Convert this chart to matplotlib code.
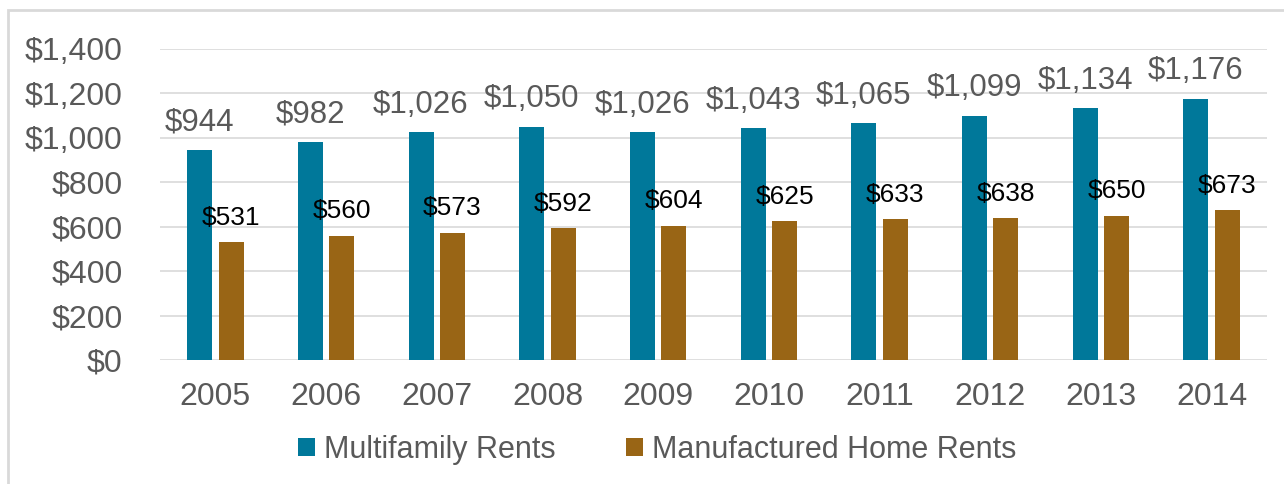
import numpy as np
import matplotlib
matplotlib.use("Agg")
import matplotlib.pyplot as plt
from matplotlib.patches import Rectangle

years = ["2005", "2006", "2007", "2008", "2009", "2010", "2011", "2012", "2013", "2014"]
multifamily = [944, 982, 1026, 1050, 1026, 1043, 1065, 1099, 1134, 1176]
manufactured = [531, 560, 573, 592, 604, 625, 633, 638, 650, 673]
series_names = ["Multifamily Rents", "Manufactured Home Rents"]

TEAL = "#00789A"
BROWN = "#996515"
GRAY_TEXT = "#595959"
GRID = "#D9D9D9"

plt.rcParams["font.family"] = ["Liberation Sans", "DejaVu Sans"]

W, H = 1284, 484
fig = plt.figure(figsize=(W / 100, H / 100), dpi=100)
ax = fig.add_axes([160 / W, 1 - 360 / H, (1267 - 160) / W, (360 - 49) / H])

# outer frame of the chart area (cropped on right and bottom)
fig.patches.append(Rectangle((8 / W, -0.1), 1.2, 1 - 10 / H + 0.1,
                             transform=fig.transFigure, fill=False,
                             edgecolor=GRID, linewidth=2))

x = np.arange(len(years))
w = 0.226
off = 0.142

b1 = ax.bar(x - off, multifamily, w, color=TEAL, label=series_names[0], zorder=3)
b2 = ax.bar(x + off, manufactured, w, color=BROWN, label=series_names[1], zorder=3)

for xi, v in zip(x - off, multifamily):
    ax.annotate(f"${v:,}", (xi, v), xytext=(0, 14), textcoords="offset points",
                ha="center", va="baseline", fontsize=22.5, color=GRAY_TEXT)
for xi, v in zip(x + off, manufactured):
    ax.annotate(f"${v:,}", (xi, v), xytext=(0, 12.5), textcoords="offset points",
                ha="center", va="baseline", fontsize=19, color="black", zorder=4)

ax.set_xlim(-0.5, len(years) - 0.5)
ax.set_ylim(0, 1400)
ax.set_yticks(range(0, 1401, 200))
ax.set_yticklabels([f"${t:,}" for t in range(0, 1401, 200)])
ax.set_xticks(x)
ax.set_xticklabels(years)
ax.tick_params(axis="y", length=0, pad=27, labelsize=23, labelcolor=GRAY_TEXT)
ax.tick_params(axis="x", length=0, pad=16, labelsize=23, labelcolor=GRAY_TEXT)
ax.grid(axis="y", color=GRID, linewidth=1.2, zorder=0)
for s in ax.spines.values():
    s.set_visible(False)

fig.legend(handles=[b1, b2], labels=series_names, loc="center",
           bbox_to_anchor=(657 / W, 1 - 450 / H), ncol=2, frameon=False,
           fontsize=22, labelcolor=GRAY_TEXT, handlelength=0.55, handleheight=0.55,
           handletextpad=0.3, columnspacing=2.3)

fig.savefig("out.png", dpi=100)
